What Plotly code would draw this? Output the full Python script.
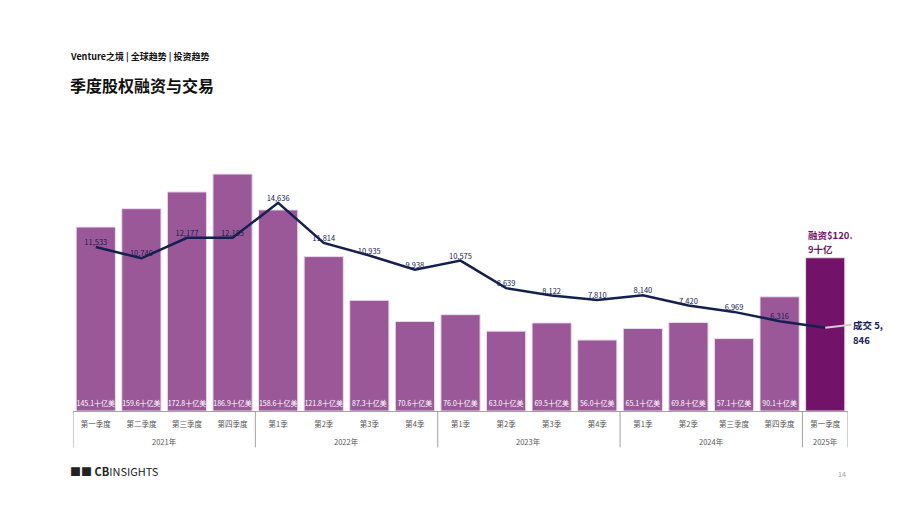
import plotly.graph_objects as go

years = ["2021年"] * 4 + ["2022年"] * 4 + ["2023年"] * 4 + ["2024年"] * 4 + ["2025年"]
quarters = ["第一季度", "第二季度", "第三季度", "第四季度",
            "第1季", "第2季", "第3季", "第4季",
            "第1季", "第2季", "第3季", "第4季",
            "第1季", "第2季", "第三季度", "第四季度",
            "第一季度"]
funding = [145.1, 159.6, 172.8, 186.9, 158.6, 121.8, 87.3, 70.6,
           76.0, 63.0, 69.5, 56.0, 65.1, 69.8, 57.1, 90.1, 120.9]
deals = [11533, 10740, 12177, 12185, 14636, 11814, 10935, 9938,
         10575, 8639, 8122, 7810, 8140, 7420, 6969, 6316, 5846]

FONT = "Noto Sans CJK SC"
BAR = "#9a5898"
BAR_LAST = "#721369"
NAVY = "#14204f"
GRID = "#a0a0a0"

n = len(funding)
xs = list(range(n))

# year groups (start, end index) from the years list
groups = []
for i, yr in enumerate(years):
    if not groups or groups[-1][0] != yr:
        groups.append([yr, i, i])
    else:
        groups[-1][2] = i

bar_colors = [BAR] * (n - 1) + [BAR_LAST]
bar_text = [f"{v:.1f}十亿美" for v in funding[:-1]] + [""]
deal_text = [f"{d:,}" for d in deals[:-1]] + [""]

fig = go.Figure()
fig.add_trace(go.Bar(
    x=xs, y=funding,
    marker=dict(color=bar_colors, line=dict(color="#eadcea", width=1)),
    text=bar_text, textposition="inside", insidetextanchor="start",
    textangle=0, constraintext="none",
    textfont=dict(family=FONT, size=7, color="white"),
    hoverinfo="skip", showlegend=False,
))
fig.add_trace(go.Scatter(
    x=xs, y=deals, yaxis="y2",
    mode="lines+text", text=deal_text, textposition="top center",
    line=dict(color=NAVY, width=2.5),
    textfont=dict(family=FONT, size=7.5, color=NAVY),
    hoverinfo="skip", showlegend=False,
))

fig.update_layout(
    width=920, height=518,
    margin=dict(l=73, r=72, t=160, b=107),
    paper_bgcolor="white", plot_bgcolor="white",
    bargap=0.14,
    font=dict(family=FONT),
    xaxis=dict(
        range=[-0.5, n - 0.5], showline=True, linecolor=GRID, linewidth=1,
        tickmode="array", tickvals=xs, ticktext=quarters,
        ticks="outside", ticklen=6, tickcolor="rgba(0,0,0,0)",
        tickfont=dict(family=FONT, size=7.5, color="#555555"),
        showgrid=False, zeroline=False,
    ),
    yaxis=dict(range=[0, 198], visible=False, showgrid=False),
    yaxis2=dict(range=[0, 17650], overlaying="y", visible=False, showgrid=False),
)

# group dividers and year labels
for yr, a, b in groups:
    fig.add_shape(type="line", xref="x", yref="paper", x0=a - 0.5, x1=a - 0.5,
                  y0=0, y1=-0.145, line=dict(color=GRID, width=1))
    fig.add_annotation(xref="x", yref="paper", x=(a + b) / 2, y=0, yanchor="middle",
                       yshift=-30, text=yr, showarrow=False,
                       font=dict(family=FONT, size=7.5, color="#555555"))
fig.add_shape(type="line", xref="x", yref="paper", x0=n - 0.5, x1=n - 0.5,
              y0=0, y1=-0.145, line=dict(color=GRID, width=1))

last_funding = f"{funding[-1]:.1f}"
fig.add_annotation(
    xref="x", yref="y", x=n - 1, y=funding[-1],
    text=f"<b>融资${last_funding[:4]}</b>",
    showarrow=False, xanchor="left", yanchor="middle",
    xshift=-19, yshift=23,
    font=dict(family=FONT, size=9.5, color=BAR_LAST),
)
fig.add_annotation(
    xref="x", yref="y", x=n - 1, y=funding[-1],
    text=f"<b>{last_funding[4:]}十亿</b>",
    showarrow=False, xanchor="left", yanchor="middle",
    xshift=-19, yshift=9,
    font=dict(family=FONT, size=9.5, color=BAR_LAST),
)
last_deals = f"{deals[-1]:,}"
fig.add_annotation(
    xref="x", yref="y2", x=n - 1, y=deals[-1],
    text=f"<b>成交 {last_deals[:2]}</b>",
    showarrow=True, arrowhead=0, arrowwidth=2, arrowcolor="#d8c8d6",
    ax=26, ay=-3, xanchor="left", yanchor="middle", align="left",
    font=dict(family=FONT, size=9.5, color=NAVY),
)
fig.add_annotation(
    xref="x", yref="y2", x=n - 1, y=deals[-1],
    text=f"<b>{last_deals[2:]}</b>",
    showarrow=False, xanchor="left", yanchor="middle",
    xshift=26, yshift=-12,
    font=dict(family=FONT, size=9.5, color=NAVY),
)

fig.add_annotation(
    xref="paper", yref="paper", x=-0.006, y=1.0, yanchor="bottom", xanchor="left",
    yshift=95, text="<b>Venture之境 | 全球趋势 | 投资趋势</b>", showarrow=False,
    font=dict(family=FONT, size=9, color="#111111"),
)
fig.add_annotation(
    xref="paper", yref="paper", x=-0.006, y=1.0, yanchor="bottom", xanchor="left",
    yshift=61, text="<b>季度股权融资与交易</b>", showarrow=False,
    font=dict(family=FONT, size=16, color="#111111"),
)
fig.add_annotation(
    xref="paper", yref="paper", x=-0.006, y=0, yanchor="top", xanchor="left",
    yshift=-50, text="<b>■■ CB</b>INSIGHTS", showarrow=False,
    font=dict(family=FONT, size=11, color="#222222"),
)
fig.add_annotation(
    xref="paper", yref="paper", x=1.0, y=0, yanchor="top", xanchor="right",
    yshift=-56, text="14", showarrow=False,
    font=dict(family=FONT, size=7, color="#999999"),
)

fig.write_html("out.html")
